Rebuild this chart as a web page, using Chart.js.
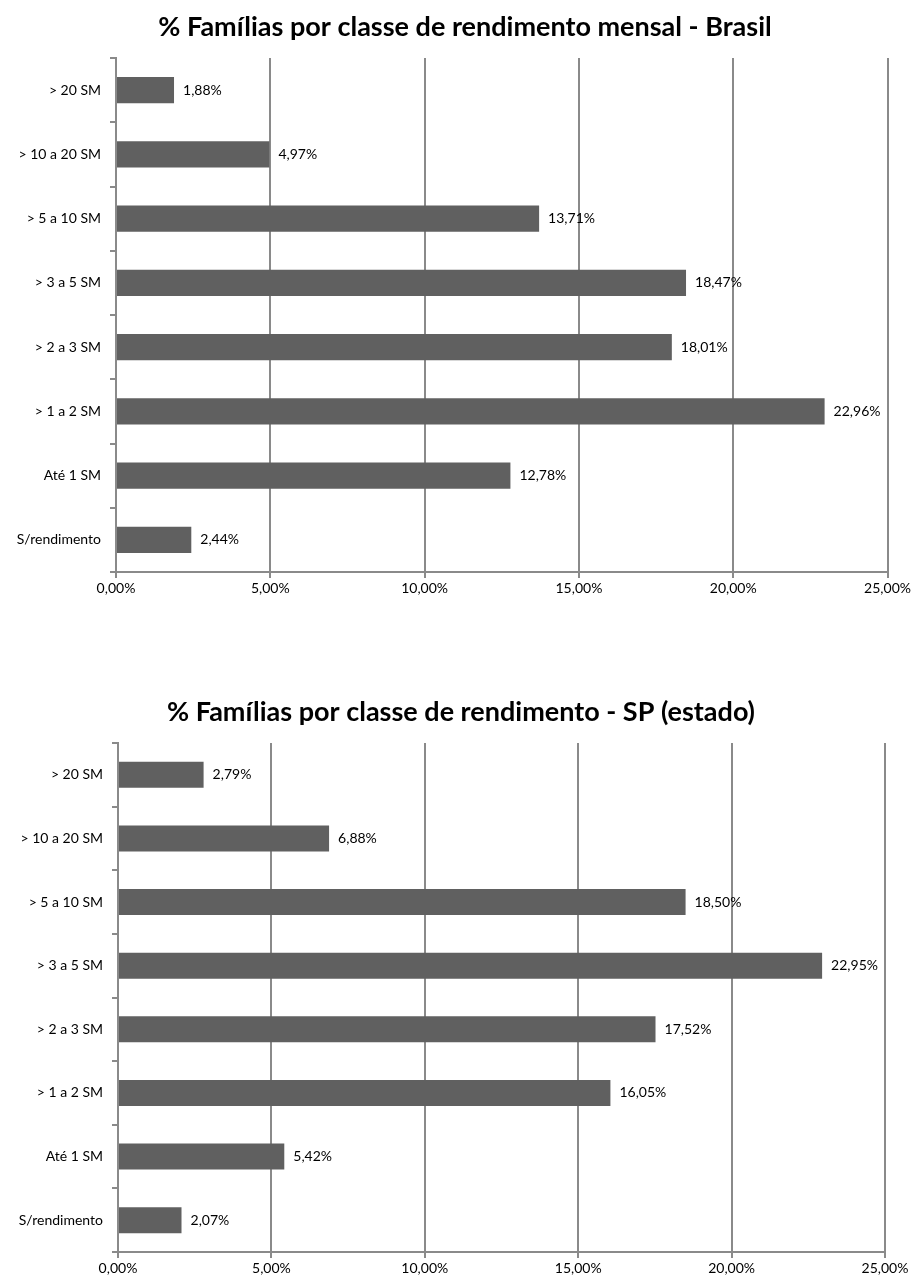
<!DOCTYPE html>
<html>
<head>
<meta charset="utf-8">
<script src="https://cdn.jsdelivr.net/npm/chart.js@4"></script>
<style>
  html, body { margin: 0; padding: 0; background: #fff; }
  .box { position: absolute; left: 0; width: 913px; height: 640px; }
</style>
</head>
<body>
<div class="box" style="top:0"><canvas id="c1"></canvas></div>
<div class="box" style="top:640px"><canvas id="c2"></canvas></div>
<script>
const categories = ['> 20 SM', '> 10 a 20 SM', '> 5 a 10 SM', '> 3 a 5 SM', '> 2 a 3 SM', '> 1 a 2 SM', 'Até 1 SM', 'S/rendimento'];
const brasilValues = [1.88, 4.97, 13.71, 18.47, 18.01, 22.96, 12.78, 2.44];
const spValues = [2.79, 6.88, 18.50, 22.95, 17.52, 16.05, 5.42, 2.07];
const titleBrasil = '% Famílias por classe de rendimento mensal - Brasil';
const titleSP = '% Famílias por classe de rendimento - SP (estado)';
const xTicks = [0, 5, 10, 15, 20, 25];

const fmt = v => v.toFixed(2).replace('.', ',') + '%';
const FONT = 'Lato, "Open Sans", sans-serif';
const GRID = '#8a8a8a';
const BAR = '#606060';

const valueLabels = {
  id: 'valueLabels',
  afterDatasetsDraw(chart) {
    const ctx = chart.ctx;
    ctx.save();
    ctx.font = '14px ' + FONT;
    ctx.fillStyle = '#000';
    ctx.textAlign = 'left';
    ctx.textBaseline = 'middle';
    chart.data.datasets.forEach((ds, i) => {
      chart.getDatasetMeta(i).data.forEach((el, j) => {
        ctx.fillText(fmt(ds.data[j]), el.x + 9, el.y);
      });
    });
    ctx.restore();
  }
};

const chartTitle = {
  id: 'chartTitle',
  afterDraw(chart, args, opts) {
    const ctx = chart.ctx;
    ctx.save();
    ctx.font = 'bold 27px ' + FONT;
    ctx.fillStyle = '#000';
    ctx.textAlign = 'center';
    ctx.textBaseline = 'middle';
    ctx.fillText(opts.text, opts.x, opts.y);
    ctx.restore();
  }
};

function makeChart(id, values, title, cfg) {
  new Chart(document.getElementById(id), {
    type: 'bar',
    data: {
      labels: categories,
      datasets: [{ data: values, backgroundColor: BAR, borderWidth: 0, barPercentage: 0.41, categoryPercentage: 1 }]
    },
    options: {
      indexAxis: 'y',
      responsive: true,
      maintainAspectRatio: false,
      animation: false,
      layout: { padding: { left: 0, right: cfg.right, top: cfg.top, bottom: 0 } },
      plugins: {
        legend: { display: false },
        tooltip: { enabled: false },
        title: { display: false },
        chartTitle: { text: title, x: cfg.titleX, y: cfg.titleY }
      },
      scales: {
        x: {
          type: 'linear',
          min: 0, max: 25,
          afterBuildTicks: s => { s.ticks = xTicks.map(v => ({ value: v })); },
          afterFit: s => { s.height = cfg.xHeight; },
          ticks: { callback: v => fmt(v), color: '#000', font: { family: FONT, size: 14 }, padding: 2, maxRotation: 0 },
          grid: { color: GRID, lineWidth: 2, tickLength: 6, drawOnChartArea: true },
          border: { color: GRID, width: 2 }
        },
        y: {
          afterFit: s => { s.width = cfg.yWidth; },
          ticks: { color: '#000', font: { family: FONT, size: 14 }, padding: 9 },
          grid: { color: GRID, lineWidth: 2, tickLength: 6, drawOnChartArea: false, offset: true },
          border: { color: GRID, width: 2 }
        }
      }
    },
    plugins: [valueLabels, chartTitle]
  });
}

makeChart('c1', brasilValues, titleBrasil, { right: 25, top: 58, titleX: 465, titleY: 27, xHeight: 68, yWidth: 116 });
makeChart('c2', spValues, titleSP, { right: 28, top: 103, titleX: 461, titleY: 72, xHeight: 28, yWidth: 118 });
</script>
</body>
</html>
